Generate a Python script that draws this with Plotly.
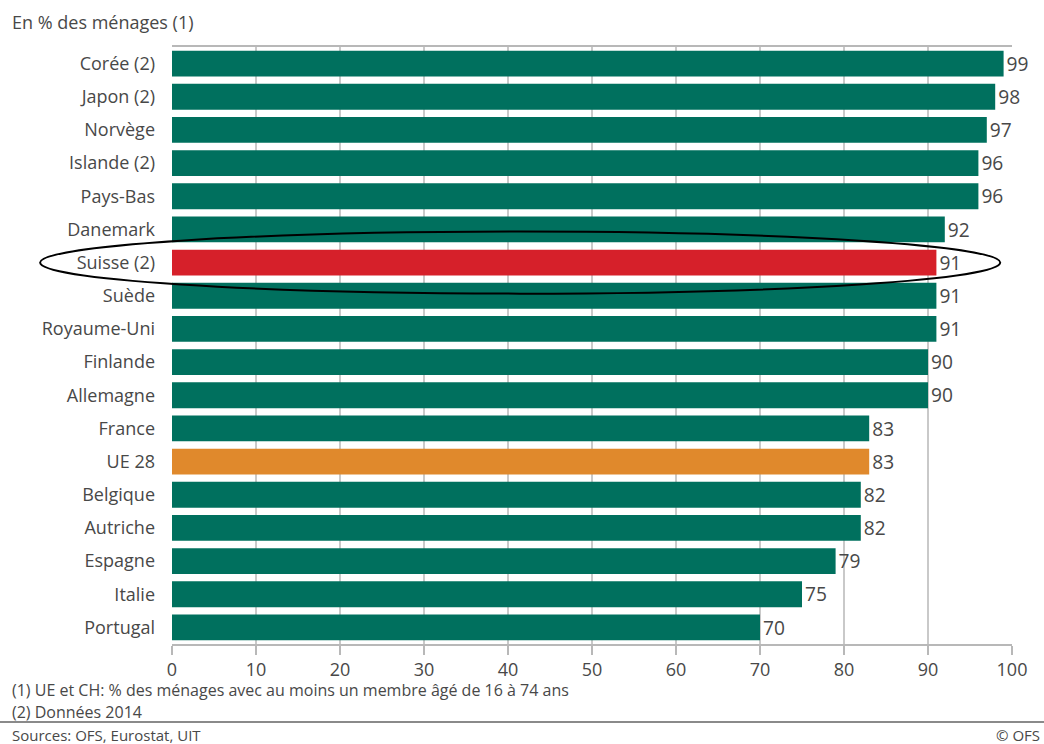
import plotly.graph_objects as go

countries = ["Corée (2)", "Japon (2)", "Norvège", "Islande (2)", "Pays-Bas", "Danemark",
             "Suisse (2)", "Suède", "Royaume-Uni", "Finlande", "Allemagne", "France",
             "UE 28", "Belgique", "Autriche", "Espagne", "Italie", "Portugal"]
values = [99, 98, 97, 96, 96, 92, 91, 91, 91, 90, 90, 83, 83, 82, 82, 79, 75, 70]
x_ticks = [0, 10, 20, 30, 40, 50, 60, 70, 80, 90, 100]

GREEN = "#00705e"
RED = "#d6202a"
ORANGE = "#e0892c"
colors = [RED if c.startswith("Suisse") else ORANGE if c == "UE 28" else GREEN for c in countries]
positions = list(range(len(countries)))

FONT = "Open Sans"
TXT = "#484848"

fig = go.Figure(go.Bar(
    x=values, y=positions, orientation="h",
    marker=dict(color=colors, line=dict(width=0)),
    width=0.78,
    text=[str(v) for v in values], textposition="outside",
    textfont=dict(family=FONT, size=20, color=TXT),
    cliponaxis=False,
    hoverinfo="skip",
))

n = len(countries)
idx = countries.index("Suisse (2)")
yc = 1 - (idx + 0.5) / n

fig.update_layout(
    width=1044, height=744,
    margin=dict(l=172, r=32, t=47, b=100),
    paper_bgcolor="white", plot_bgcolor="white",
    showlegend=False,
    font=dict(family=FONT, color=TXT),
    xaxis=dict(range=[0, 100], tickvals=x_ticks, showgrid=True, gridcolor="#c9c9c9", gridwidth=1.5,
               zeroline=False, showline=True, linecolor="#b8b8b8", linewidth=1.5, mirror=True,
               ticks="outside", ticklen=9, tickcolor="#b8b8b8", tickwidth=1.5,
               tickfont=dict(family=FONT, size=18, color=TXT), fixedrange=True),
    yaxis=dict(range=[n - 0.5, -0.5], tickvals=positions, ticktext=countries,
               showgrid=False, zeroline=False, showline=False, ticks="", ticklabelstandoff=16,
               tickfont=dict(family=FONT, size=18, color=TXT), fixedrange=True),
    shapes=[
        dict(type="circle", xref="paper", yref="paper",
             x0=-0.157, x1=0.986, y0=yc - 0.052, y1=yc + 0.052,
             line=dict(color="black", width=2)),
        dict(type="line", xref="paper", yref="paper", x0=-172/840, x1=1 + 32/840,
             y0=-78/597, y1=-78/597, line=dict(color="#8a8a8a", width=2)),
    ],
    annotations=[
        dict(text="En % des ménages (1)", xref="paper", yref="paper", x=-162/840, y=1 + 25/597,
             xanchor="left", yanchor="middle", showarrow=False, font=dict(family=FONT, size=18, color=TXT)),
        dict(text="(1) UE et CH: % des ménages avec au moins un membre âgé de 16 à 74 ans",
             xref="paper", yref="paper", x=-162/840, y=-46/597, xanchor="left", yanchor="middle",
             showarrow=False, font=dict(family=FONT, size=16, color=TXT)),
        dict(text="(2) Données 2014", xref="paper", yref="paper", x=-162/840, y=-68/597,
             xanchor="left", yanchor="middle", showarrow=False, font=dict(family=FONT, size=16, color=TXT)),
        dict(text="Sources: OFS, Eurostat, UIT", xref="paper", yref="paper", x=-162/840, y=-91/597,
             xanchor="left", yanchor="middle", showarrow=False, font=dict(family=FONT, size=15, color=TXT)),
        dict(text="© OFS", xref="paper", yref="paper", x=1 + 30/840, y=-91/597,
             xanchor="right", yanchor="middle", showarrow=False, font=dict(family=FONT, size=15, color=TXT)),
    ],
)

fig.write_html("out.html", config={"displayModeBar": False},
               post_script="document.body.style.margin='0';")
